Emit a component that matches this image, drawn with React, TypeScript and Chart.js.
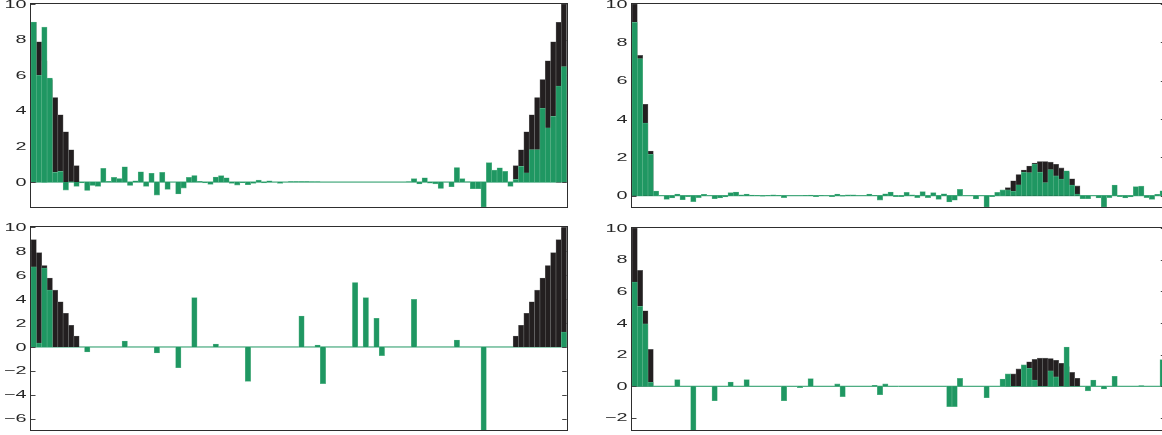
import React, { useEffect, useRef } from "react";
import { Chart, registerables } from "chart.js";

Chart.register(...registerables);

// ---------------- data ----------------
const CATEGORIES: string[] = [
  "1","2","3","4","5","6","7","8","9","10",
  "11","12","13","14","15","16","17","18","19","20",
  "21","22","23","24","25","26","27","28","29","30",
  "31","32","33","34","35","36","37","38","39","40",
  "41","42","43","44","45","46","47","48","49","50",
  "51","52","53","54","55","56","57","58","59","60",
  "61","62","63","64","65","66","67","68","69","70",
  "71","72","73","74","75","76","77","78","79","80",
  "81","82","83","84","85","86","87","88","89","90",
  "91","92","93","94","95","96","97","98","99","100",
];

// black reference series, left panels (high at both ends)
const BLACK_EDGES: number[] = [
  8.97, 7.88, 6.81, 5.76, 4.75, 3.78, 2.82, 1.81, 0.92, 0,
  0, 0, 0, 0, 0, 0, 0, 0, 0, 0,
  0, 0, 0, 0, 0, 0, 0, 0, 0, 0,
  0, 0, 0, 0, 0, 0, 0, 0, 0, 0,
  0, 0, 0, 0, 0, 0, 0, 0, 0, 0,
  0, 0, 0, 0, 0, 0, 0, 0, 0, 0,
  0, 0, 0, 0, 0, 0, 0, 0, 0, 0,
  0, 0, 0, 0, 0, 0, 0, 0, 0, 0,
  0, 0, 0, 0, 0, 0, 0, 0, 0, 0,
  0.92, 1.81, 2.82, 3.78, 4.75, 5.76, 6.81, 7.88, 8.97, 10,
];

// black reference series, right panels (spike at start, bump near 3/4)
const BLACK_PEAKS: number[] = [
  10, 7.32, 4.77, 2.33, 0, 0, 0, 0, 0, 0,
  0, 0, 0, 0, 0, 0, 0, 0, 0, 0,
  0, 0, 0, 0, 0, 0, 0, 0, 0, 0,
  0, 0, 0, 0, 0, 0, 0, 0, 0, 0,
  0, 0, 0, 0, 0, 0, 0, 0, 0, 0,
  0, 0, 0, 0, 0, 0, 0, 0, 0, 0,
  0, 0, 0, 0, 0, 0, 0, 0, 0, 0,
  0.42, 0.78, 1.1, 1.34, 1.55, 1.7, 1.78, 1.78, 1.75, 1.64,
  1.45, 1.24, 0.88, 0.51, 0, 0, 0, 0, 0, 0,
  0, 0, 0, 0, 0, 0, 0, 0, 0, 0,
];

const GREEN_TOP_LEFT: number[] = [
  8.99, 6.0, 8.7, 5.84, 0.54, 0.6, -0.45, 0.02, -0.24, -0.05,
  -0.47, -0.19, -0.24, 0.77, 0.04, 0.26, 0.2, 0.86, -0.19, 0.07,
  0.58, -0.24, 0.49, -0.73, 0.54, -0.41, 0, -0.67, -0.34, 0.26,
  0.37, 0.04, -0.05, -0.13, 0.28, 0.36, 0.24, -0.07, -0.17, -0.04,
  -0.15, -0.07, 0.11, -0.05, 0.07, 0, -0.07, 0, 0.03, 0.03,
  0.03, 0.03, 0.02, 0.02, 0, 0, 0, 0, 0, 0,
  0, 0, 0, 0, 0, 0, 0, 0, 0, 0,
  0.02, 0.19, -0.11, 0.24, -0.06, -0.1, -0.36, 0, -0.26, 0.82,
  0.19, 0.01, -0.37, -0.37, -1.4, 1.09, 0.67, 0.8, 0.6, -0.24,
  0.15, 0.88, 0.52, 1.82, 1.82, 4.14, 3.05, 3.69, 5.39, 6.48,
];

const GREEN_TOP_RIGHT: number[] = [
  9.04, 7.15, 3.79, 2.16, 0.24, 0, -0.19, -0.12, 0.09, -0.21,
  -0.05, -0.31, -0.1, 0.07, 0, -0.16, -0.12, -0.07, 0.16, 0.19,
  0.05, 0.09, 0.03, 0.02, -0.03, 0.02, 0.05, 0.02, -0.1, 0,
  0, 0, 0.02, 0.03, -0.05, 0.02, 0, -0.05, 0.09, -0.03,
  0.05, 0.05, 0, 0, 0.09, 0.02, -0.23, 0.1, 0.19, -0.05,
  -0.05, 0.17, 0.05, -0.1, 0.21, -0.1, 0.16, -0.19, 0.1, -0.33,
  -0.24, 0.33, 0, 0, -0.17, 0, -0.59, -0.05, 0.17, 0.3,
  0.3, 0.23, 0.57, 1.23, 1.2, 1.65, 1.23, 0.68, 1.36, 1.03,
  0.87, 1.3, 0.56, 0.09, -0.16, -0.16, 0, -0.12, -0.59, -0.1,
  0.56, -0.05, -0.12, -0.07, 0.47, 0.5, -0.1, -0.19, 0.07, 0.26,
];

const GREEN_BOTTOM_LEFT: number[] = [
  6.69, 0.33, 6.6, 4.76, 0, 0, 0, 0, 0, 0,
  -0.42, 0, 0, 0, 0, 0, 0, 0.5, 0, 0,
  0, 0, 0, -0.5, 0, 0, 0, -1.73, 0, 0,
  4.12, 0, 0, 0, 0.25, 0, 0, 0, 0, 0,
  -2.87, 0, 0, 0, 0, 0, 0, 0, 0, 0,
  2.59, 0, 0, 0.17, -3.06, 0, 0, 0, 0, 0,
  5.38, 0, 4.12, 0, 2.4, -0.72, 0, 0, 0, 0,
  0, 3.98, 0, 0, 0, 0, 0, 0, 0, 0.58,
  0, 0, 0, 0, -6.96, 0, 0, 0, 0, 0,
  0, 0, 0, 0, 0, 0, 0, 0, 0, 1.25,
];

const GREEN_BOTTOM_RIGHT: number[] = [
  6.59, 5.05, 3.94, 0.25, 0, 0, 0, 0, 0.42, 0,
  0, -2.78, 0, 0, 0, -0.91, 0, 0, 0.27, 0,
  0, 0.42, 0, 0, 0, 0, 0, 0, -0.91, 0,
  0, -0.08, 0, 0.48, 0, 0, 0, 0, 0.15, -0.65,
  0, 0, 0, 0, 0, 0.06, -0.53, 0.15, 0, 0,
  0, 0, 0, 0, 0, 0, 0, 0, 0, -1.28,
  -1.28, 0.5, 0, 0, 0, 0, -0.72, 0, 0, 0.46,
  0.78, 0, 0, 1.35, 1.14, 0.4, 0, 0, 0.97, 0.59,
  0, 2.48, 0, 0, 0, -0.29, 0.4, 0, -0.17, 0,
  0.63, 0, 0, 0, 0, 0.04, 0, 0, 0, 1.68,
];

const Y_TICKS_TOP: number[] = [0, 2, 4, 6, 8, 10];
const Y_TICKS_BOTTOM_LEFT: number[] = [-6, -4, -2, 0, 2, 4, 6, 8, 10];
const Y_TICKS_BOTTOM_RIGHT: number[] = [-2, 0, 2, 4, 6, 8, 10];

const Y_MAX = 10;
const Y_MIN_TOP_LEFT = -1.4;
const Y_MIN_TOP_RIGHT = -0.59;
const Y_MIN_BOTTOM_LEFT = -6.96;
const Y_MIN_BOTTOM_RIGHT = -2.78;

// ---------------- styles ----------------
const GREEN = "#1f9762";
const GREEN_EDGE = "#62b98f";
const BLACK = "#231f20";
const BLACK_EDGE = "#6a6a6a";
const FRAME = "#2e2e2e";
const TEXT = "#262626";

const fmt = (v: number) => (v < 0 ? "\u2212" + Math.abs(v) : String(v));

const decorPlugin = {
  id: "decor",
  beforeDatasetsDraw(chart: any, _a: any, opts: any) {
    const { ctx, chartArea: a } = chart;
    const y = chart.scales.y;
    ctx.save();
    const y0 = y.getPixelForValue(0);
    ctx.strokeStyle = GREEN;
    ctx.lineWidth = 1;
    ctx.beginPath();
    ctx.moveTo(a.left, y0);
    ctx.lineTo(a.right, y0);
    ctx.stroke();
    ctx.strokeStyle = "#444";
    ctx.lineWidth = 1;
    for (const v of opts.ticks as number[]) {
      const py = Math.round(y.getPixelForValue(v)) + 0.5;
      ctx.beginPath();
      ctx.moveTo(a.left, py);
      ctx.lineTo(a.left + 4.5, py);
      ctx.moveTo(a.right, py);
      ctx.lineTo(a.right - 4.5, py);
      ctx.stroke();
    }
    ctx.restore();
  },
  afterDatasetsDraw(chart: any, _a: any, opts: any) {
    const { ctx, chartArea: a } = chart;
    const y = chart.scales.y;
    ctx.save();
    ctx.strokeStyle = FRAME;
    ctx.lineWidth = 1;
    ctx.strokeRect(
      Math.round(a.left) - 0.5,
      Math.round(a.top) - 0.5,
      Math.round(a.right - a.left) + 1,
      Math.round(a.bottom - a.top) + 1
    );
    ctx.fillStyle = TEXT;
    ctx.font = '11px "Liberation Sans", Arial, sans-serif';
    ctx.textAlign = "right";
    ctx.textBaseline = "middle";
    for (const v of opts.ticks as number[]) {
      const py = y.getPixelForValue(v);
      ctx.save();
      ctx.translate(a.left - 4.5, py + 0.5);
      ctx.scale(1.8, 1);
      ctx.fillText(fmt(v), 0, 0);
      ctx.restore();
    }
    ctx.restore();
  },
};

type PanelProps = {
  left: number;
  top: number;
  width: number;
  height: number;
  pad: { left: number; right: number; top: number; bottom: number };
  green: number[];
  black: number[];
  min: number;
  ticks: number[];
};

function Panel(p: PanelProps) {
  const ref = useRef<HTMLCanvasElement | null>(null);
  useEffect(() => {
    if (!ref.current) return;
    const chart = new Chart(ref.current, {
      type: "bar",
      data: {
        labels: CATEGORIES,
        datasets: [
          {
            label: "green",
            data: p.green,
            backgroundColor: GREEN,
            borderColor: GREEN_EDGE,
            borderWidth: 0.6,
            order: 0,
            grouped: false,
            categoryPercentage: 1,
            barPercentage: 1,
          } as any,
          {
            label: "black",
            data: p.black,
            backgroundColor: BLACK,
            borderColor: BLACK_EDGE,
            borderWidth: 0.6,
            order: 1,
            grouped: false,
            categoryPercentage: 1,
            barPercentage: 1,
          } as any,
        ],
      },
      options: {
        animation: false,
        responsive: false,
        maintainAspectRatio: false,
        devicePixelRatio: 1,
        events: [],
        layout: { padding: p.pad },
        plugins: {
          legend: { display: false },
          tooltip: { enabled: false },
          decor: { ticks: p.ticks },
        } as any,
        scales: {
          x: { display: false, offset: true },
          y: { display: false, min: p.min, max: Y_MAX },
        },
      },
      plugins: [decorPlugin as any],
    });
    return () => chart.destroy();
  }, []);
  return (
    <canvas
      ref={ref}
      width={p.width}
      height={p.height}
      style={{
        position: "absolute",
        left: p.left,
        top: p.top,
        width: p.width,
        height: p.height,
      }}
    />
  );
}

export default function App() {
  return (
    <div
      style={{
        position: "fixed",
        left: 0,
        top: 0,
        width: 1162,
        height: 435,
        overflow: "hidden",
        background: "#fff",
      }}
    >
      <Panel
        left={0}
        top={0}
        width={580}
        height={217}
        pad={{ left: 31, right: 13.3, top: 4, bottom: 10 }}
        green={GREEN_TOP_LEFT}
        black={BLACK_EDGES}
        min={Y_MIN_TOP_LEFT}
        ticks={Y_TICKS_TOP}
      />
      <Panel
        left={590}
        top={0}
        width={590}
        height={217}
        pad={{ left: 42, right: 14.7, top: 4, bottom: 10 }}
        green={GREEN_TOP_RIGHT}
        black={BLACK_PEAKS}
        min={Y_MIN_TOP_RIGHT}
        ticks={Y_TICKS_TOP}
      />
      <Panel
        left={0}
        top={218}
        width={580}
        height={217}
        pad={{ left: 31, right: 13.3, top: 9.3, bottom: 4.7 }}
        green={GREEN_BOTTOM_LEFT}
        black={BLACK_EDGES}
        min={Y_MIN_BOTTOM_LEFT}
        ticks={Y_TICKS_BOTTOM_LEFT}
      />
      <Panel
        left={590}
        top={218}
        width={590}
        height={217}
        pad={{ left: 42, right: 14.7, top: 10, bottom: 4.7 }}
        green={GREEN_BOTTOM_RIGHT}
        black={BLACK_PEAKS}
        min={Y_MIN_BOTTOM_RIGHT}
        ticks={Y_TICKS_BOTTOM_RIGHT}
      />
    </div>
  );
}
